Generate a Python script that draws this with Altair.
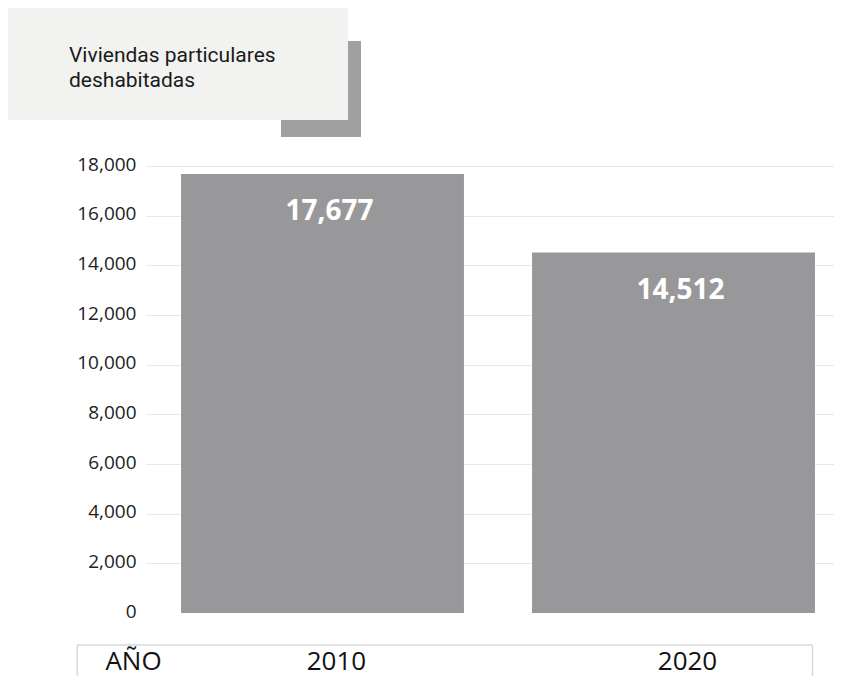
import altair as alt
import pandas as pd

years = ["2010", "2020"]
values = [17677, 14512]
y_ticks = [0, 2000, 4000, 6000, 8000, 10000, 12000, 14000, 16000, 18000]
title_lines = ["Viviendas particulares", "deshabitadas"]
axis_word = "AÑO"

df = pd.DataFrame({"year": years, "value": values})
one = pd.DataFrame({"k": [0]})

BAR = "#98989a"

x_enc = alt.X("year:N", sort=years,
              scale=alt.Scale(paddingInner=0.194, paddingOuter=0.077, align=0.648),
              axis=None)
y_scale = alt.Scale(domain=[0, 18000], nice=False, zero=True)

bars = alt.Chart(df).mark_bar(color=BAR).encode(
    x=x_enc,
    y=alt.Y("value:Q", scale=y_scale,
            axis=alt.Axis(values=y_ticks, labelExpr="format(datum.value, ',')", title=None,
                          domain=False, ticks=False, labelPadding=10,
                          labelFont="Open Sans", labelFontSize=19,
                          labelColor="#222222", labelOffset=-2,
                          grid=True,
                          gridColor={"condition": {"test": "datum.value === 0", "value": "transparent"},
                                     "value": "#e8e8e8"},
                          gridWidth=1)),
)

value_labels = alt.Chart(df).mark_text(
    font="Open Sans", fontSize=28, fontWeight="bold", color="white",
    baseline="middle", align="center", dy=38, dx=7,
).encode(
    x=x_enc,
    y=alt.Y("value:Q", scale=y_scale, axis=None),
    text=alt.Text("value:Q", format=","),
)

year_labels = alt.Chart(df).mark_text(
    font="Open Sans", fontSize=26, color="#111111",
    baseline="alphabetic", align="center", dx=14,
).encode(
    x=x_enc,
    y=alt.value(503.5),
    text="year:N",
)

shadow = alt.Chart(one).mark_rect(color="#a0a0a0").encode(
    x=alt.value(135), x2=alt.value(215), y=alt.value(-125), y2=alt.value(-29))
box = alt.Chart(one).mark_rect(color="#f2f2f1").encode(
    x=alt.value(-138), x2=alt.value(202), y=alt.value(-158), y2=alt.value(-46))

title_df = pd.DataFrame({"t": title_lines, "i": [0, 1]})
title_text = alt.Chart(title_df).mark_text(
    font="Roboto", fontSize=21, color="#1a1a1a", align="left", baseline="alphabetic",
).encode(
    x=alt.value(-77),
    y=alt.Y("i:O", scale=alt.Scale(type="point", range=[-103.7, -79.3], padding=0), axis=None),
    text="t:N",
)

edge = "#d9d9d9"
top_line = alt.Chart(one).mark_rule(color=edge, strokeWidth=1.5).encode(
    x=alt.value(-68.7), x2=alt.value(666.5), y=alt.value(479))
left_line = alt.Chart(one).mark_rule(color=edge, strokeWidth=1.5).encode(
    x=alt.value(-68.7), y=alt.value(479), y2=alt.value(510))
right_line = alt.Chart(one).mark_rule(color=edge, strokeWidth=1.5).encode(
    x=alt.value(666.5), y=alt.value(479), y2=alt.value(510))

axis_label = alt.Chart(one).mark_text(
    font="Open Sans", fontSize=26, color="#111111", align="center", baseline="alphabetic",
).encode(x=alt.value(-12.5), y=alt.value(503.5), text=alt.value(axis_word))

chart = alt.layer(
    shadow, box, title_text, bars, value_labels, year_labels,
    top_line, left_line, right_line, axis_label,
).resolve_scale(y="independent").properties(
    width=688, height=447,
    autosize=alt.AutoSizeParams(type="none"),
    padding={"left": 138, "top": 158, "right": 0, "bottom": 63},
).configure_view(stroke=None)

chart.save("out.html", embed_options={"renderer": "svg", "actions": False})
